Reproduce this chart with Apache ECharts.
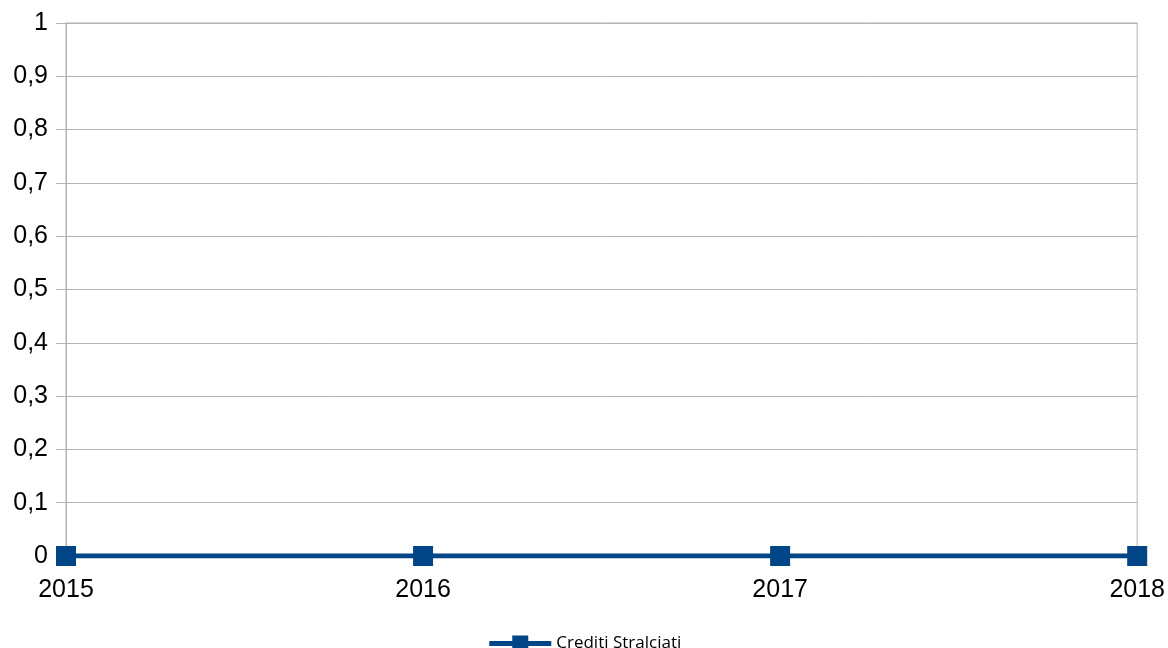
<!DOCTYPE html>
<html>
<head>
<meta charset="utf-8">
<script src="https://cdn.jsdelivr.net/npm/echarts@6/dist/echarts.min.js"></script>
<style>
  html, body { margin: 0; padding: 0; background: #fff; }
  #chart { width: 1168px; height: 648px; }
</style>
</head>
<body>
<div id="chart"></div>
<script>
const years = ["2015", "2016", "2017", "2018"]
const creditiStralciati = [0, 0, 0, 0]
const seriesName = "Crediti Stralciati"

const chart = echarts.init(document.getElementById("chart"))

chart.setOption({
  backgroundColor: "#ffffff",
  animation: false,
  grid: {
    left: 66,
    right: 28,
    top: 23,
    bottom: 92,
    show: true,
    borderColor: "#b3b3b3",
    borderWidth: 1,
  },
  legend: {
    top: 630,
    left: "center",
    itemWidth: 62,
    itemHeight: 20,
    itemGap: 8,
    lineStyle: { width: 5 },
    textStyle: { fontFamily: "Open Sans", fontSize: 17, color: "#000", letterSpacing: 1 },
    data: [seriesName],
  },
  xAxis: {
    type: "category",
    data: years,
    boundaryGap: false,
    axisLine: { show: true, lineStyle: { color: "#b3b3b3" } },
    axisTick: { show: true, length: 6, lineStyle: { color: "#b3b3b3" } },
    axisLabel: {
      color: "#000",
      fontFamily: "Liberation Sans",
      fontSize: 25,
      margin: 22,
    },
    splitLine: { show: false },
  },
  yAxis: {
    type: "value",
    min: 0,
    max: 1,
    interval: 0.1,
    axisLine: { show: true, lineStyle: { color: "#b3b3b3" } },
    axisTick: { show: true, length: 10, lineStyle: { color: "#b3b3b3" } },
    axisLabel: {
      color: "#000",
      fontFamily: "Liberation Sans",
      fontSize: 25,
      margin: 18,
      formatter: v => String(Math.round(v * 10) / 10).replace(".", ","),
    },
    splitLine: { show: true, lineStyle: { color: "#b3b3b3" } },
  },
  series: [
    {
      name: seriesName,
      type: "line",
      data: creditiStralciati,
      symbol: "rect",
      symbolSize: 20,
      lineStyle: { color: "#004586", width: 5 },
      itemStyle: { color: "#004586" },
    },
  ],
})
</script>
</body>
</html>
